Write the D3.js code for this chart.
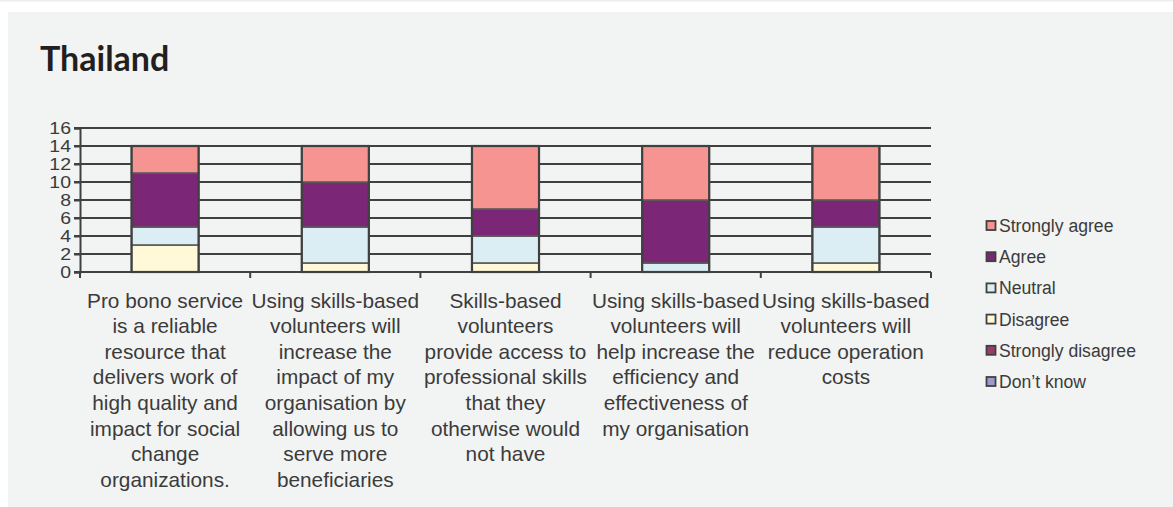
<!DOCTYPE html>
<html>
<head>
<meta charset="utf-8">
<script src="https://cdn.jsdelivr.net/npm/d3@7"></script>
<style>
  html, body { margin: 0; padding: 0; background: #ffffff; }
  svg { display: block; }
</style>
</head>
<body>
<svg id="chart" width="1173" height="507"></svg>
<script>
// Survey responses, Thailand (number of respondents per statement)
const categories = [
  "Pro bono service is a reliable resource that delivers work of high quality and impact for social change organizations.",
  "Using skills-based volunteers will increase the impact of my organisation by allowing us to serve more beneficiaries",
  "Skills-based volunteers provide access to professional skills that they otherwise would not have",
  "Using skills-based volunteers will help increase the efficiency and effectiveness of my organisation",
  "Using skills-based volunteers will reduce operation costs"
];
// Wrapped lines for each category label
const categoryLines = [
  ["Pro bono service", "is a reliable", "resource that", "delivers work of", "high quality and", "impact for social", "change", "organizations."],
  ["Using skills-based", "volunteers will", "increase the", "impact of my", "organisation by", "allowing us to", "serve more", "beneficiaries"],
  ["Skills-based", "volunteers", "provide access to", "professional skills", "that they", "otherwise would", "not have"],
  ["Using skills-based", "volunteers will", "help increase the", "efficiency and", "effectiveness of", "my organisation"],
  ["Using skills-based", "volunteers will", "reduce operation", "costs"]
];

const dontKnow         = [0, 0, 0, 0, 0];
const stronglyDisagree = [0, 0, 0, 0, 0];
const disagree         = [3, 1, 1, 0, 1];
const neutral          = [2, 4, 3, 1, 4];
const agree            = [6, 5, 3, 7, 3];
const stronglyAgree    = [3, 4, 7, 6, 6];

// Stacking order, bottom to top
const seriesNames  = ["Don\u2019t know", "Strongly disagree", "Disagree", "Neutral", "Agree", "Strongly agree"];
const seriesValues = [dontKnow, stronglyDisagree, disagree, neutral, agree, stronglyAgree];
const seriesColors = ["#9c9ccc", "#9b3b6a", "#fff9d8", "#daeef4", "#7b2676", "#f59491"];

const yTicks = [0, 2, 4, 6, 8, 10, 12, 14, 16];

const svg = d3.select("#chart");
const W = 1173, H = 507;

// page background and panel
svg.append("rect").attr("x", 0).attr("y", 0).attr("width", W).attr("height", H).attr("fill", "#ffffff");
svg.append("rect").attr("x", 0).attr("y", 0).attr("width", W).attr("height", 1.5).attr("fill", "#eceeee");
svg.append("rect").attr("x", 8).attr("y", 12).attr("width", W - 8).attr("height", H - 12).attr("fill", "#f2f3f3");

svg.append("text")
  .attr("x", 40).attr("y", 71)
  .attr("font-family", "Lato, 'Open Sans', sans-serif")
  .attr("font-weight", 700)
  .attr("font-size", 34)
  .attr("fill", "#231f20")
  .text("Thailand");

const plot = { left: 80, right: 931, top: 128, bottom: 272 };

const x = d3.scaleBand()
  .domain(categories)
  .range([plot.left, plot.right])
  .paddingInner(0.606)
  .paddingOuter(0.303);

const y = d3.scaleLinear().domain([0, 16]).range([plot.bottom, plot.top]);

const axisColor = "#404040";
const textColor = "#3b3b3b";

// horizontal gridlines (with small left ticks)
svg.append("g").selectAll("line")
  .data(yTicks.filter(d => d > 0))
  .join("line")
  .attr("x1", plot.left - 6).attr("x2", plot.right)
  .attr("y1", d => y(d)).attr("y2", d => y(d))
  .attr("stroke", axisColor).attr("stroke-width", 2);

// stacked data
const table = categories.map((c, i) => {
  const row = { category: c };
  seriesNames.forEach((s, k) => { row[s] = seriesValues[k][i]; });
  return row;
});
const stacked = d3.stack().keys(seriesNames)(table);

const barsG = svg.append("g");
stacked.forEach((layer, k) => {
  barsG.append("g")
    .selectAll("rect")
    .data(layer.filter(d => d[1] - d[0] > 0))
    .join("rect")
    .attr("x", d => x(d.data.category))
    .attr("width", x.bandwidth())
    .attr("y", d => y(d[1]))
    .attr("height", d => y(d[0]) - y(d[1]))
    .attr("fill", seriesColors[k])
    .attr("stroke", "#5a5a5a")
    .attr("stroke-width", 1.6);
});

// outline around each full stack
const topLayer = stacked[stacked.length - 1];
barsG.append("g").selectAll("rect")
  .data(topLayer)
  .join("rect")
  .attr("x", d => x(d.data.category))
  .attr("width", x.bandwidth())
  .attr("y", d => y(d[1]))
  .attr("height", d => y(0) - y(d[1]))
  .attr("fill", "none")
  .attr("stroke", axisColor)
  .attr("stroke-width", 2.2);

// y axis
const yAxis = svg.append("g").attr("transform", `translate(${plot.left},0)`)
  .call(d3.axisLeft(y).tickValues(yTicks).tickSize(6).tickPadding(3));
yAxis.select(".domain").attr("stroke", axisColor).attr("stroke-width", 2);
yAxis.selectAll(".tick line").attr("stroke", axisColor).attr("stroke-width", 2);
// tightly stacked tick labels, slightly condensed vertically
yAxis.selectAll(".tick text")
  .attr("font-family", "'Liberation Sans', Arial, sans-serif")
  .attr("font-size", 19.5)
  .attr("fill", textColor)
  .attr("dy", null)
  .attr("y", 0)
  .attr("dominant-baseline", "central")
  .attr("transform", "scale(1,0.8)");

// x axis line with ticks at category boundaries
const step = x.step();
const boundaries = d3.range(categories.length + 1).map(i => plot.left + i * step);
svg.append("line")
  .attr("x1", plot.left - 6).attr("x2", plot.right)
  .attr("y1", y(0)).attr("y2", y(0))
  .attr("stroke", axisColor).attr("stroke-width", 2);
svg.append("g").selectAll("line")
  .data(boundaries)
  .join("line")
  .attr("x1", d => d).attr("x2", d => d)
  .attr("y1", y(0)).attr("y2", y(0) + 6)
  .attr("stroke", axisColor).attr("stroke-width", 2);

// category labels
const labG = svg.append("g")
  .attr("font-family", "'Liberation Sans', Arial, sans-serif")
  .attr("font-size", 20.8)
  .attr("fill", textColor)
  .attr("text-anchor", "middle");
categories.forEach((c, i) => {
  const t = labG.append("text")
    .attr("x", x(c) + x.bandwidth() / 2)
    .attr("y", 307.5);
  categoryLines[i].forEach((ln, j) => {
    t.append("tspan")
      .attr("x", x(c) + x.bandwidth() / 2)
      .attr("dy", j === 0 ? 0 : 25.6)
      .text(ln);
  });
});

// legend (reverse of stacking order)
const legendNames = seriesNames.slice().reverse();
const legendColors = seriesColors.slice().reverse();
const legend = svg.append("g");
legendNames.forEach((name, i) => {
  const cy = 226 + i * 31.2;
  legend.append("rect")
    .attr("x", 986.5).attr("y", cy - 5)
    .attr("width", 9).attr("height", 9)
    .attr("fill", legendColors[i])
    .attr("stroke", axisColor).attr("stroke-width", 1.8);
  legend.append("text")
    .attr("x", 999).attr("y", cy + 6)
    .attr("font-family", "'Liberation Sans', Arial, sans-serif")
    .attr("font-size", 17.6)
    .attr("fill", textColor)
    .text(name);
});
</script>
</body>
</html>
